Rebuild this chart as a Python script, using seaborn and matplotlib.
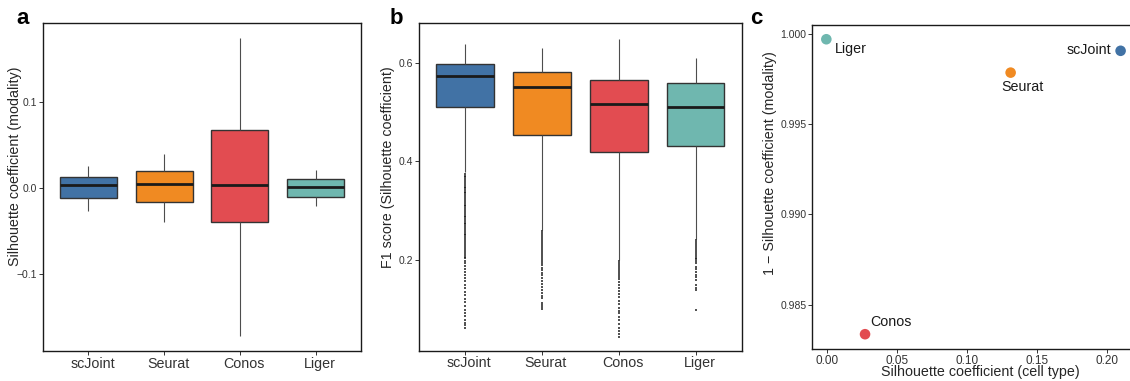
import matplotlib
matplotlib.use("Agg")
import matplotlib.pyplot as plt
import matplotlib.transforms as mtransforms
import pandas as pd
import seaborn as sns

methods = ["scJoint", "Seurat", "Conos", "Liger"]
colors = ["#4172A5", "#F08A22", "#E24C51", "#6FB7AF"]

# Silhouette coefficient (modality): five-number summary per method
sil_mod_low = [-0.0267, -0.0395, -0.1730, -0.0217]
sil_mod_q1 = [-0.0124, -0.0170, -0.0399, -0.0112]
sil_mod_med = [0.0028, 0.0039, 0.0028, 0.0004]
sil_mod_q3 = [0.0128, 0.0198, 0.0667, 0.0101]
sil_mod_high = [0.0256, 0.0388, 0.1737, 0.0202]

# F1 score (silhouette coefficient): five-number summary per method
f1_low = [0.378, 0.261, 0.199, 0.243]
f1_q1 = [0.5096, 0.4528, 0.4190, 0.4320]
f1_med = [0.5737, 0.5514, 0.5169, 0.5100]
f1_q3 = [0.5980, 0.5810, 0.5660, 0.5580]
f1_high = [0.639, 0.629, 0.649, 0.609]

# F1 score outliers below the lower whisker
f1_out_scjoint = [0.375, 0.371, 0.368, 0.364, 0.360, 0.357, 0.353, 0.349, 0.346,
                  0.342, 0.338, 0.335, 0.331, 0.327, 0.324, 0.320, 0.316, 0.312,
                  0.309, 0.305, 0.301, 0.298, 0.294, 0.290, 0.287, 0.283, 0.279,
                  0.276, 0.272, 0.268, 0.265, 0.261, 0.257, 0.253, 0.250, 0.246,
                  0.242, 0.238, 0.235, 0.231, 0.227, 0.223, 0.219, 0.215, 0.211,
                  0.207, 0.203, 0.198, 0.193, 0.187, 0.182, 0.176, 0.170, 0.163,
                  0.157, 0.150, 0.143, 0.136, 0.129, 0.121, 0.114, 0.107, 0.099,
                  0.092, 0.086, 0.079, 0.073, 0.068, 0.062]
f1_out_seurat = [0.258, 0.254, 0.250, 0.246, 0.242, 0.238, 0.234, 0.230, 0.226,
                 0.222, 0.218, 0.214, 0.210, 0.206, 0.202, 0.198, 0.194, 0.189,
                 0.184, 0.179, 0.174, 0.169, 0.163, 0.157, 0.151, 0.145, 0.139,
                 0.133, 0.127, 0.123, 0.112, 0.108, 0.104, 0.100]
f1_out_conos = [0.197, 0.193, 0.189, 0.185, 0.181, 0.177, 0.173, 0.169, 0.165,
                0.161, 0.156, 0.150, 0.144, 0.138, 0.131, 0.124, 0.117, 0.110,
                0.103, 0.097, 0.092, 0.085, 0.078, 0.070, 0.062, 0.055, 0.050,
                0.044]
f1_out_liger = [0.241, 0.237, 0.233, 0.229, 0.225, 0.221, 0.217, 0.213, 0.209,
                0.205, 0.201, 0.197, 0.194, 0.186, 0.181, 0.176, 0.170, 0.165,
                0.159, 0.149, 0.144, 0.139, 0.099]

# Scatter: silhouette (cell type) vs 1 - silhouette (modality)
sil_celltype = [0.2095, 0.1311, 0.0273, -0.0003]
one_minus_sil_mod = [0.99907, 0.99786, 0.98336, 0.99971]

palette = dict(zip(methods, colors))

sns.set_theme(style="white")
plt.rcParams["font.family"] = ["Liberation Sans", "DejaVu Sans"]
plt.rcParams["axes.unicode_minus"] = True

W, H = 1130, 381
fig = plt.figure(figsize=(W / 100, H / 100), dpi=100)


def frac_axes(x0, y0, x1, y1):
    return fig.add_axes([x0 / W, 1 - y1 / H, (x1 - x0) / W, (y1 - y0) / H])


def summary_frame(*columns):
    rows = []
    for i, m in enumerate(methods):
        for col in columns:
            rows.append((m, col[i]))
    return pd.DataFrame(rows, columns=["method", "value"])


def style_axes(ax, ytick_size=7.5, xtick_size=10.3):
    for sp in ax.spines.values():
        sp.set_visible(True)
        sp.set_color("#1a1a1a")
        sp.set_linewidth(1.0)
    ax.tick_params(axis="both", which="both", direction="out", length=2.6,
                   width=0.7, color="#333333", pad=1.5, bottom=True, left=True,
                   top=False, right=False)
    ax.tick_params(axis="y", labelsize=ytick_size, labelcolor="#333333")
    ax.tick_params(axis="x", labelsize=xtick_size, labelcolor="#333333")
    ax.grid(False)


box_kw = dict(
    x="method", y="value", hue="method", order=methods, hue_order=methods,
    palette=palette, width=0.75, whis=(0, 100), showfliers=False,
    showcaps=False, saturation=1, legend=False, linecolor="#333333",
    linewidth=1.0,
    medianprops=dict(color="#1a1a1a", linewidth=2.0),
    whiskerprops=dict(color="#4d4d4d", linewidth=0.8),
)

shift = mtransforms.ScaledTranslation(4 / 100, 0, fig.dpi_scale_trans)

# ---- panel a ----
axa = frac_axes(43, 23, 361, 351)
df_a = summary_frame(sil_mod_low, sil_mod_q1, sil_mod_med, sil_mod_q3, sil_mod_high)
sns.boxplot(data=df_a, ax=axa, **box_kw)
axa.set_xlim(-0.6, 3.6)
axa.set_ylim(-0.19, 0.1915)
axa.set_yticks([-0.1, 0.0, 0.1])
axa.set_yticklabels(["\u22120.1", "0.0", "0.1"])
axa.set_xlabel("")
axa.set_ylabel("Silhouette coefficient (modality)", fontsize=10.3)
axa.yaxis.set_label_coords(-0.066, 0.564)
style_axes(axa)
for lab in axa.get_xticklabels():
    lab.set_transform(lab.get_transform() + shift)

# ---- panel b ----
axb = frac_axes(419, 23.3, 741.7, 350.7)
df_b = summary_frame(f1_low, f1_q1, f1_med, f1_q3, f1_high)
sns.boxplot(data=df_b, ax=axb, **box_kw)
outliers = {"scJoint": f1_out_scjoint, "Seurat": f1_out_seurat,
            "Conos": f1_out_conos, "Liger": f1_out_liger}
df_out = pd.DataFrame([(m, v) for m in methods for v in outliers[m]],
                      columns=["method", "value"])
sns.stripplot(data=df_out, x="method", y="value", order=methods, jitter=False,
              color="#1a1a1a", size=1.7, marker="s", alpha=0.75, linewidth=0,
              ax=axb)
axb.set_xlim(-0.6, 3.6)
axb.set_ylim(0.016, 0.68)
axb.set_yticks([0.2, 0.4, 0.6])
axb.set_yticklabels(["0.2", "0.4", "0.6"])
axb.set_xlabel("")
axb.set_ylabel("F1 score (Silhouette coefficient)", fontsize=10.3)
axb.yaxis.set_label_coords(-0.0744, 0.562)
style_axes(axb)
for lab in axb.get_xticklabels():
    lab.set_transform(lab.get_transform() + shift)

# ---- panel c ----
axc = frac_axes(812.3, 25, 1133.5, 349)
df_c = pd.DataFrame({"method": methods, "x": sil_celltype, "y": one_minus_sil_mod})
sns.scatterplot(data=df_c, x="x", y="y", hue="method", hue_order=methods,
                palette=palette, s=58, linewidth=0, legend=False, ax=axc,
                zorder=3)
axc.set_xlim(-0.0103, 0.2187)
axc.set_ylim(0.98254, 1.0005)
axc.set_xticks([0.0, 0.05, 0.10, 0.15, 0.20])
axc.set_xticklabels(["0.00", "0.05", "0.10", "0.15", "0.20"])
axc.set_yticks([0.985, 0.990, 0.995, 1.000])
axc.set_yticklabels(["0.985", "0.990", "0.995", "1.000"])
axc.set_xlabel("Silhouette coefficient (cell type)", fontsize=10.3)
axc.set_ylabel("1 \u2212 Silhouette coefficient (modality)", fontsize=10.3)
axc.yaxis.set_label_coords(-0.110, 0.574)
axc.xaxis.set_label_coords(0.522, -0.050)
style_axes(axc, ytick_size=7.5, xtick_size=8.5)

label_offsets = {
    "scJoint": ((-6.5, 0.8), "right"),
    "Seurat": ((8.3, -10.7), "center"),
    "Conos": ((18.6, 8.5), "center"),
    "Liger": ((5.8, -7.2), "left"),
}
for m, xv, yv in zip(methods, sil_celltype, one_minus_sil_mod):
    (dx, dy), ha = label_offsets[m]
    axc.annotate(m, (xv, yv), xytext=(dx, dy), textcoords="offset points",
                 ha=ha, va="center", fontsize=10.3, color="#1a1a1a")

# panel letters
for x, letter in [(16, "a"), (390, "b"), (750, "c")]:
    fig.text(x / W, 1 - 24.5 / H, letter, fontsize=16, fontweight="bold",
             ha="left", va="baseline", color="black")

fig.savefig("out.png", dpi=100)
